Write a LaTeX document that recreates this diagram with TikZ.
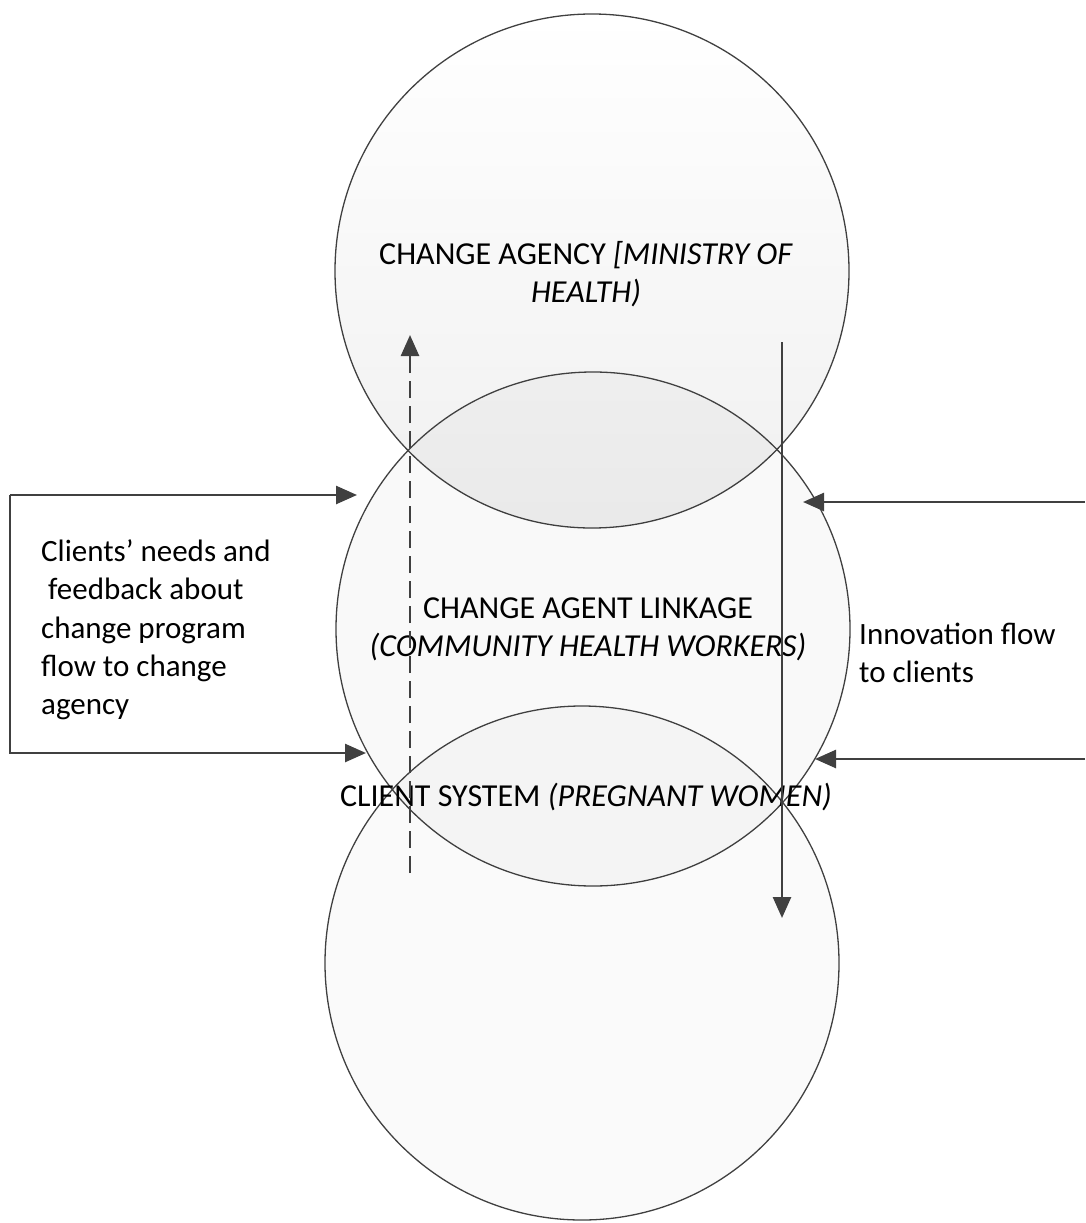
\documentclass[tikz,border=0pt]{standalone}
\usepackage{fontspec}
\setmainfont{Carlito}
\usetikzlibrary{arrows.meta}
\definecolor{ink}{HTML}{404040}
\begin{document}
\begin{tikzpicture}[x=1pt,y=-1pt,
  ring/.style={circle, draw=ink, line width=1.3pt, minimum size=514pt, inner sep=0pt},
  flow/.style={draw=ink, line width=2.6pt, -{Triangle[length=21pt,width=18pt]}},
  circtext/.style={align=center, font=\fontsize{32}{38}\selectfont, inner sep=0pt},
  sidetext/.style={align=left, font=\fontsize{31}{38.3}\selectfont, inner sep=0pt, anchor=west}]
\useasboundingbox (0,0) rectangle (1085,1223);
% circles
\node[ring, top color=white, bottom color=black!6] (agency) at (592,271) {};
\node[ring, fill=black, fill opacity=0.025, draw opacity=1] (linkage) at (593,629) {};
\node[ring, fill=black, fill opacity=0.02, draw opacity=1] (clients) at (582,963) {};
% texts
\node[circtext] (agencytxt) at (586,274) {CHANGE AGENCY \textit{[MINISTRY OF}\\\textit{HEALTH)}};
\node[circtext] (linktxt) at (588,629) {CHANGE AGENT LINKAGE\\\textit{(COMMUNITY HEALTH WORKERS)}};
\node[circtext] (clienttxt) at (586,797) {CLIENT SYSTEM \textit{(PREGNANT WOMEN)}};
\node[sidetext] (feedback) at (41,630) {Clients’ needs and\\\ feedback about\\change program\\flow to change\\agency};
\node[sidetext] (innovation) at (859,653) {Innovation flow\\to clients};
% left loop
\coordinate (ltip) at (357,495);
\coordinate (lcornerT) at (10,495);
\coordinate (lcornerB) at (10,753);
\coordinate (lbtip) at (366,753);
\draw[flow] (lcornerT) -- (ltip);
\draw[flow] (ltip -| lcornerT) -- (lcornerB) -- (lbtip);
% right arrows
\coordinate (rtopend) at (1085,502);
\coordinate (rtoptip) at (803,502);
\coordinate (rbotend) at (1085,759);
\coordinate (rbottip) at (815,759);
\draw[flow] (rtopend) -- (rtoptip);
\draw[flow] (rbotend) -- (rbottip);
% vertical flows
\coordinate (dashbot) at (410,873);
\coordinate (dashtop) at (410,335);
\draw[flow, dash pattern=on 17pt off 8pt] (dashbot) -- (dashtop);
\coordinate (solidtop) at (782,342);
\coordinate (solidbot) at (782,918);
\draw[flow] (solidtop) -- (solidbot);
\end{tikzpicture}
\end{document}
